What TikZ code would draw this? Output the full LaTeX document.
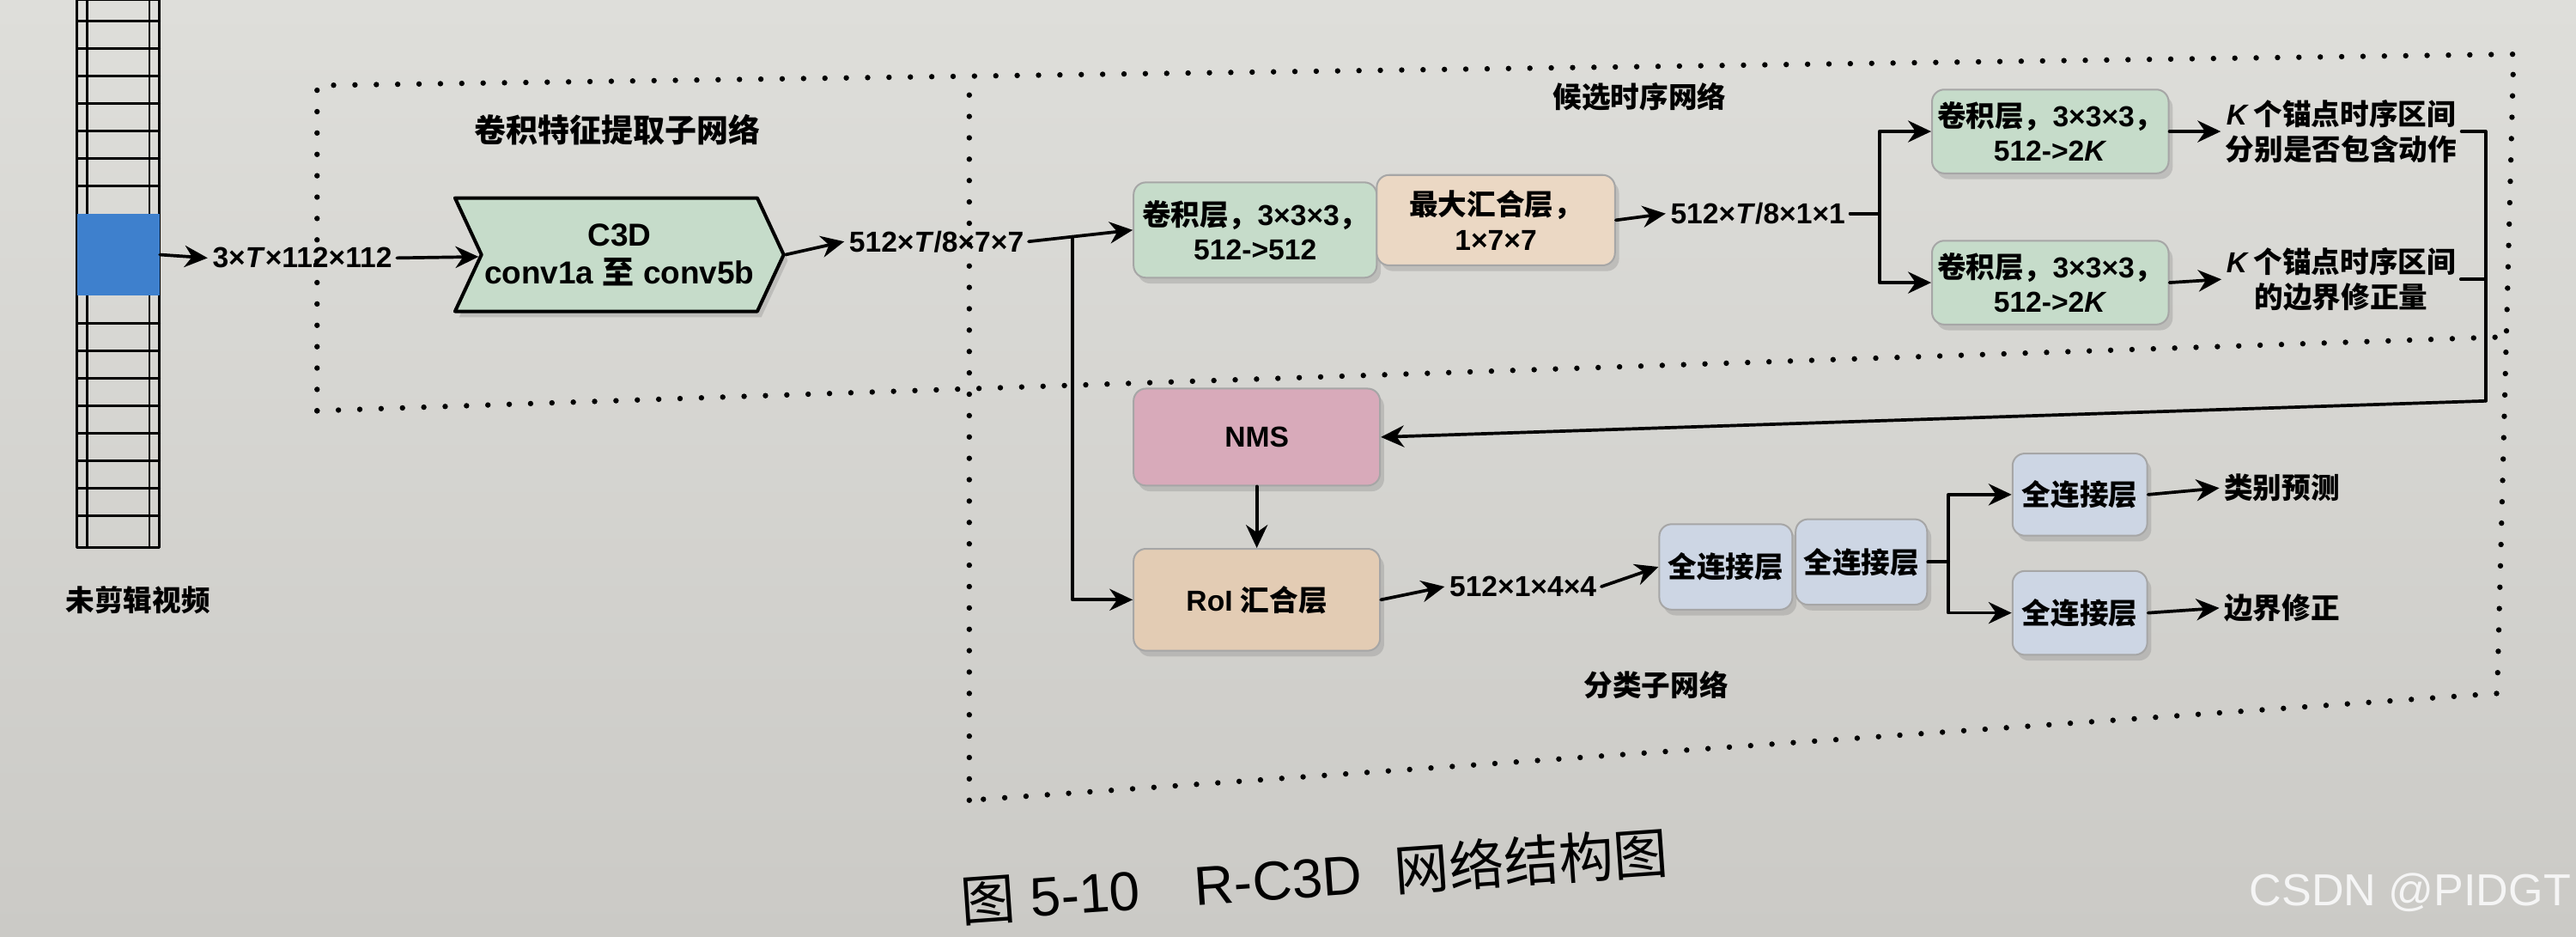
\documentclass[tikz,border=0pt]{standalone}
\usepackage{fontspec}
\setmainfont{Liberation Sans}
\newfontfamily\cjk{Noto Sans CJK SC}
\usepackage{tikz}
\usetikzlibrary{arrows.meta,calc,positioning,shapes.symbols,shadows}
\definecolor{pagegray}{RGB}{222,222,218}
\definecolor{pagedark}{RGB}{203,202,198}
\definecolor{convgreen}{RGB}{198,220,202}
\definecolor{poolpeach}{RGB}{235,216,196}
\definecolor{nmspink}{RGB}{216,170,186}
\definecolor{roipeach}{RGB}{227,204,180}
\definecolor{fcblue}{RGB}{205,214,228}
\definecolor{clipblue}{RGB}{62,128,205}
\newcommand{\zh}[1]{{\cjk #1}}

\begin{document}
\begin{tikzpicture}[x=0.2mm,y=-0.2mm,>={Stealth[length=8pt,width=7.5pt]},
  line cap=round,line join=round,
  font=\bfseries\fontsize{10}{12}\selectfont,
  box/.style={draw=black!35,line width=.6pt,rounded corners=1.5mm,
   align=center,inner sep=1pt,
   drop shadow={shadow xshift=.5mm,shadow yshift=-.7mm,opacity=.3}},
  lab/.style={inner sep=1.5pt,align=center},
  conn/.style={line width=1.1pt,->},
  wire/.style={line width=1.1pt},
  frame/.style={line width=1.9pt,dash pattern=on 0pt off 7.4pt}]
 % Page of the photographed book.
 \useasboundingbox (0,0) rectangle (1568,570);
 \shade[top color=pagegray,bottom color=pagedark] (0,0) rectangle (1568,570);
 % Film strip of the untrimmed video, one clip in blue.
 \draw[line width=.9pt] (47,0) rectangle (97,333);
 \draw[line width=.7pt] (53,0) -- (53,333) (91,0) -- (91,333);
 \foreach \k in {1,...,7}
  \draw[line width=.9pt] (47,130-16.75*\k) -- (97,130-16.75*\k);
 \foreach \k in {1,...,8}
  \draw[line width=.9pt] (47,180+16.75*\k) -- (97,180+16.75*\k);
 \node[fill=clipblue,minimum width=10mm,minimum height=10mm,inner sep=0pt]
  (clip) at (72,155) {};
 \node[lab] (cliplab) at (84,365) {\zh{未剪辑视频}};
 % Dotted frames of the three sub-networks.
 \draw[frame] (590,487) -- (590,46.4);
 \draw[frame] (193,250) -- (193,52) -- (1530,33) -- (1520,422) -- (590,487);
 \draw[frame] (193,250) -- (1526,205);
 \node[lab,font=\bfseries\fontsize{11}{13}\selectfont] (convtitle) at (376,79)
  {\zh{卷积特征提取子网络}};
 \node[lab] (proptitle) at (998,59) {\zh{候选时序网络}};
 \node[lab] (clstitle) at (1008,417) {\zh{分类子网络}};
 % Feature extraction.
 \node[lab] (inlab) at (184,157) {3×\textit{T}×112×112};
 \node[signal,signal to=east,signal from=west,signal pointer angle=130,
  draw,line width=1.2pt,fill=convgreen,minimum width=38mm,minimum height=13.8mm,
  align=center,inner sep=1pt,font=\bfseries\fontsize{11}{13}\selectfont,
  drop shadow={shadow xshift=.5mm,shadow yshift=-.7mm,opacity=.3}]
  (c3d) at (377,155) {C3D\\conv1a \zh{至} conv5b};
 \node[lab] (featlab) at (570,147) {512×\textit{T}/8×7×7};
 % Proposal subnet.
 \node[box,fill=convgreen,minimum width=29.6mm,minimum height=11.6mm]
  (conv1) at (764,140) {\zh{卷积层，}3×3×3\zh{，}\\512->512};
 \node[box,fill=poolpeach,minimum width=29mm,minimum height=11mm]
  (pool) at (910.5,134) {\zh{最大汇合层，}\\1×7×7};
 \node[lab] (featlab2) at (1070,130) {512×\textit{T}/8×1×1};
 \node[box,fill=convgreen,minimum width=28.8mm,minimum height=10.2mm]
  (conv2a) at (1248,80) {\zh{卷积层，}3×3×3\zh{，}\\512->2\textit{K}};
 \node[box,fill=convgreen,minimum width=28.8mm,minimum height=10.2mm]
  (conv2b) at (1248,172) {\zh{卷积层，}3×3×3\zh{，}\\512->2\textit{K}};
 \node[lab] (klabA) at (1425,80)
  {\textit{K}\,\zh{个锚点时序区间}\\\zh{分别是否包含动作}};
 \node[lab] (klabB) at (1425,170)
  {\textit{K}\,\zh{个锚点时序区间}\\\zh{的边界修正量}};
 % Classification subnet.
 \node[box,fill=nmspink,minimum width=30mm,minimum height=11.8mm]
  (nms) at (765,266) {NMS};
 \node[box,fill=roipeach,minimum width=30mm,minimum height=12.4mm]
  (roi) at (765,365) {RoI \zh{汇合层}};
 \node[lab] (roilab) at (927,357) {512×1×4×4};
 \node[box,fill=fcblue,minimum width=16.2mm,minimum height=10.4mm]
  (fc1) at (1050.5,345) {\zh{全连接层}};
 \node[box,fill=fcblue,minimum width=16mm,minimum height=10.4mm]
  (fc2) at (1133,342) {\zh{全连接层}};
 \node[box,fill=fcblue,minimum width=16.4mm,minimum height=10mm]
  (fc3) at (1266,301) {\zh{全连接层}};
 \node[box,fill=fcblue,minimum width=16.4mm,minimum height=10.2mm]
  (fc4) at (1266,373) {\zh{全连接层}};
 \node[lab] (outA) at (1389,297) {\zh{类别预测}};
 \node[lab] (outB) at (1389,370) {\zh{边界修正}};
 % Connectors.
 \draw[conn] (clip.east) -- (inlab.west);
 \draw[conn] (inlab.east) -- (c3d);
 \draw[conn] (c3d.east) -- (featlab.west);
 \draw[conn] (featlab.east) -- (conv1.west);
 \coordinate (split) at ($(featlab.east)!.42!(conv1.west)$);
 \draw[conn] (split) |- (roi.west);
 \draw[conn] (pool.east) -- (featlab2.west);
 \coordinate (fork) at (1144,130);
 \draw[wire] (featlab2.east) -- (fork);
 \draw[conn] (fork) |- (conv2a.west);
 \draw[conn] (fork) |- (conv2b.west);
 \draw[conn] (conv2a.east) -- (klabA.west);
 \draw[conn] (conv2b.east) -- (klabB.west);
 \coordinate (back) at (1513,244);
 \draw[wire] (klabA.east) -- (klabA.east -| back) -- (back);
 \draw[wire] (klabB.east) -- (klabB.east -| back);
 \draw[conn] (back) -- (nms.east);
 \draw[conn] (nms.south) -- (roi.north);
 \draw[conn] (roi.east) -- (roilab.west);
 \draw[conn] (roilab.east) -- (fc1.west);
 \coordinate (fork2) at (1186,342);
 \draw[wire] (fc2.east) -- (fork2);
 \draw[conn] (fork2) |- (fc3.west);
 \draw[conn] (fork2) |- (fc4.west);
 \draw[conn] (fc3.east) -- (outA.west);
 \draw[conn] (fc4.east) -- (outB.west);
 % Caption and watermark.
 \node[font=\fontsize{19}{22}\selectfont,rotate=4] (caption) at (800,533)
  {\zh{图}~5-10\hspace{1em}R-C3D\hspace{.6em}\zh{网络结构图}};
 \node[font=\fontsize{15.5}{18}\selectfont,text=white!92!gray] (mark)
  at (1467,543) {CSDN @PIDGT};
\end{tikzpicture}
\end{document}
